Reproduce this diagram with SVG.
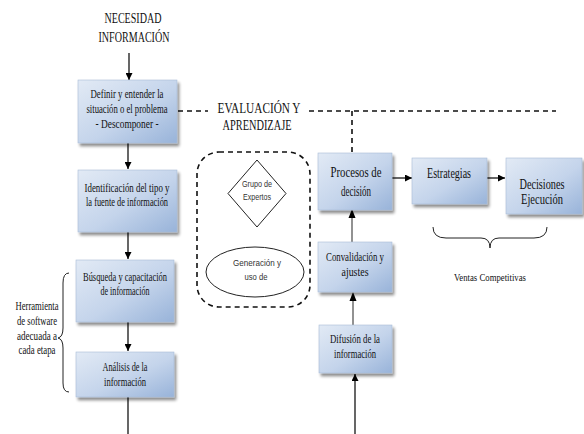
<svg xmlns="http://www.w3.org/2000/svg" width="584" height="434" viewBox="0 0 584 434">
<defs>
<linearGradient id="bx" x1="0" y1="0" x2="1" y2="1">
<stop offset="0" stop-color="#e2eaf5"/>
<stop offset="0.55" stop-color="#c4d4eb"/>
<stop offset="1" stop-color="#98b3d9"/>
</linearGradient>
<filter id="sh" x="-10%" y="-10%" width="130%" height="130%">
<feGaussianBlur in="SourceAlpha" stdDeviation="1.5"/>
<feOffset dx="2" dy="3" result="b"/>
<feComponentTransfer><feFuncA type="linear" slope="0.45"/></feComponentTransfer>
<feMerge><feMergeNode/><feMergeNode in="SourceGraphic"/></feMerge>
</filter>
<marker id="ah" viewBox="0 0 10 10" refX="10" refY="5" markerWidth="7" markerHeight="7" orient="auto" markerUnits="userSpaceOnUse">
<path d="M0,0 L10,5 L0,10 z" fill="#000"/>
</marker>
</defs>
<style>
.box{fill:url(#bx);stroke:#a9bcd6;stroke-width:0.6;filter:url(#sh)}
.t{font-family:"Liberation Serif","Times New Roman",serif;fill:#111;text-anchor:middle}
.s{font-family:"Liberation Sans",Arial,sans-serif;fill:#333;text-anchor:middle;font-size:9px}
.ln{stroke:#000;stroke-width:1.2;fill:none}
.gl{stroke:#777;stroke-width:1.6;fill:none}
.dash{stroke:#111;stroke-width:1.6;stroke-dasharray:5,4;fill:none}
</style>
<rect width="584" height="434" fill="#fff"/>

<g id="title">
<text class="t" x="133" y="23" font-size="14" textLength="57" lengthAdjust="spacingAndGlyphs">NECESIDAD</text>
<text class="t" x="134" y="42" font-size="14" textLength="71" lengthAdjust="spacingAndGlyphs">INFORMACIÓN</text>
</g>

<g id="eval">
<text class="t" x="259" y="113" font-size="14" textLength="83" lengthAdjust="spacingAndGlyphs">EVALUACIÓN Y</text>
<text class="t" x="257" y="130" font-size="14" textLength="69" lengthAdjust="spacingAndGlyphs">APRENDIZAJE</text>
</g>

<g id="connectors">
<line class="ln" x1="129" y1="53" x2="129" y2="80" marker-end="url(#ah)"/>
<line class="ln" x1="128" y1="143" x2="128" y2="169" marker-end="url(#ah)"/>
<line class="ln" x1="128" y1="232" x2="128" y2="259" marker-end="url(#ah)"/>
<line class="ln" x1="128" y1="322" x2="128" y2="351" marker-end="url(#ah)"/>
<line class="ln" x1="128" y1="397" x2="128" y2="434"/>
<path class="dash" d="M178,111 H208"/>
<path class="dash" d="M309,111 H556 M352,111 V153"/>
<line class="ln" x1="392" y1="178" x2="412" y2="178" marker-end="url(#ah)"/>
<line class="ln" x1="487" y1="178" x2="505" y2="178" marker-end="url(#ah)"/>
<line class="gl" x1="352" y1="242" x2="352" y2="216"/>
<path d="M348.5,218 L352,209 L355.5,218 z" fill="#000"/>
<line class="gl" x1="353" y1="325" x2="353" y2="299"/>
<path d="M349.5,301 L353,292 L356.5,301 z" fill="#000"/>
<line class="ln" x1="355" y1="434" x2="355" y2="374" marker-end="url(#ah)"/>
</g>

<g id="n1">
<rect class="box" x="78" y="80" width="99" height="63"/>
<text class="t" x="127" y="98" font-size="13" textLength="73" lengthAdjust="spacingAndGlyphs">Definir y entender la</text>
<text class="t" x="127" y="113" font-size="13" textLength="81" lengthAdjust="spacingAndGlyphs">situación o el problema</text>
<text class="t" x="127" y="128" font-size="13" textLength="63" lengthAdjust="spacingAndGlyphs">- Descomponer -</text>
</g>

<g id="n2">
<rect class="box" x="78" y="170" width="99" height="62"/>
<text class="t" x="127" y="192" font-size="13" textLength="85" lengthAdjust="spacingAndGlyphs">Identificación del tipo y</text>
<text class="t" x="127" y="206" font-size="13" textLength="82" lengthAdjust="spacingAndGlyphs">la fuente de información</text>
</g>

<g id="n3">
<rect class="box" x="76" y="260" width="98" height="62"/>
<text class="t" x="125" y="281" font-size="13" textLength="84" lengthAdjust="spacingAndGlyphs">Búsqueda y capacitación</text>
<text class="t" x="125" y="295" font-size="13" textLength="49" lengthAdjust="spacingAndGlyphs">de información</text>
</g>

<g id="n4">
<rect class="box" x="76" y="352" width="98" height="45"/>
<text class="t" x="125" y="371" font-size="13" textLength="45" lengthAdjust="spacingAndGlyphs">Análisis de la</text>
<text class="t" x="125" y="386" font-size="13" textLength="42" lengthAdjust="spacingAndGlyphs">información</text>
</g>

<g id="herramienta">
<path d="M69,273 Q63,273 63,283 L63,328 Q63,337 58,338 Q63,339 63,348 L63,383 Q63,392 69,392" fill="none" stroke="#222" stroke-width="1"/>
<text class="t" x="37" y="310" font-size="13" textLength="43" lengthAdjust="spacingAndGlyphs">Herramienta</text>
<text class="t" x="37" y="325" font-size="13" textLength="40" lengthAdjust="spacingAndGlyphs">de software</text>
<text class="t" x="37" y="340" font-size="13" textLength="40" lengthAdjust="spacingAndGlyphs">adecuada a</text>
<text class="t" x="37" y="354" font-size="13" textLength="37" lengthAdjust="spacingAndGlyphs">cada etapa</text>
</g>

<g id="grupo">
<rect x="197" y="152" width="113" height="155" rx="22" ry="22" class="dash"/>
</g>

<g id="expertos">
<path d="M257,160 L286,193.5 L257,227 L228,193.5 z" fill="#fff" stroke="#222" stroke-width="1"/>
<text class="s" x="257" y="187" textLength="30" lengthAdjust="spacingAndGlyphs">Grupo de</text>
<text class="s" x="257" y="200" textLength="28" lengthAdjust="spacingAndGlyphs">Expertos</text>
</g>

<g id="generacion">
<ellipse cx="255" cy="272" rx="49" ry="25" fill="#fff" stroke="#222" stroke-width="1"/>
<text class="s" x="257" y="266" textLength="48" lengthAdjust="spacingAndGlyphs">Generación y</text>
<text class="s" x="256" y="280" textLength="23" lengthAdjust="spacingAndGlyphs">uso de</text>
</g>

<g id="procesos">
<rect class="box" x="318" y="153" width="74" height="57"/>
<text class="t" x="356" y="177" font-size="15" textLength="51" lengthAdjust="spacingAndGlyphs">Procesos de</text>
<text class="t" x="356" y="196" font-size="15" textLength="30" lengthAdjust="spacingAndGlyphs">decisión</text>
</g>

<g id="estrategias">
<rect class="box" x="412" y="158" width="75" height="46"/>
<text class="t" x="449" y="178" font-size="15" textLength="44" lengthAdjust="spacingAndGlyphs">Estrategias</text>
</g>

<g id="decisiones">
<rect class="box" x="506" y="158" width="76" height="56"/>
<text class="t" x="542" y="189" font-size="15" textLength="45" lengthAdjust="spacingAndGlyphs">Decisiones</text>
<text class="t" x="542" y="204" font-size="15" textLength="42" lengthAdjust="spacingAndGlyphs">Ejecución</text>
</g>

<g id="ventas">
<path d="M433,227 Q433,238 446,238 L481,238 Q490,238 490,248 Q490,238 499,238 L534,238 Q547,238 547,227" fill="none" stroke="#222" stroke-width="1"/>
<text class="t" x="490" y="281" font-size="10.5" textLength="72" lengthAdjust="spacingAndGlyphs">Ventas Competitivas</text>
</g>

<g id="convalidacion">
<rect class="box" x="318" y="242" width="74" height="50"/>
<text class="t" x="355" y="261" font-size="13" textLength="58" lengthAdjust="spacingAndGlyphs">Convalidación y</text>
<text class="t" x="355" y="276" font-size="13" textLength="27" lengthAdjust="spacingAndGlyphs">ajustes</text>
</g>

<g id="difusion">
<rect class="box" x="319" y="325" width="73" height="48"/>
<text class="t" x="355" y="343" font-size="13" textLength="50" lengthAdjust="spacingAndGlyphs">Difusión de la</text>
<text class="t" x="355" y="358" font-size="13" textLength="42" lengthAdjust="spacingAndGlyphs">información</text>
</g>
</svg>
